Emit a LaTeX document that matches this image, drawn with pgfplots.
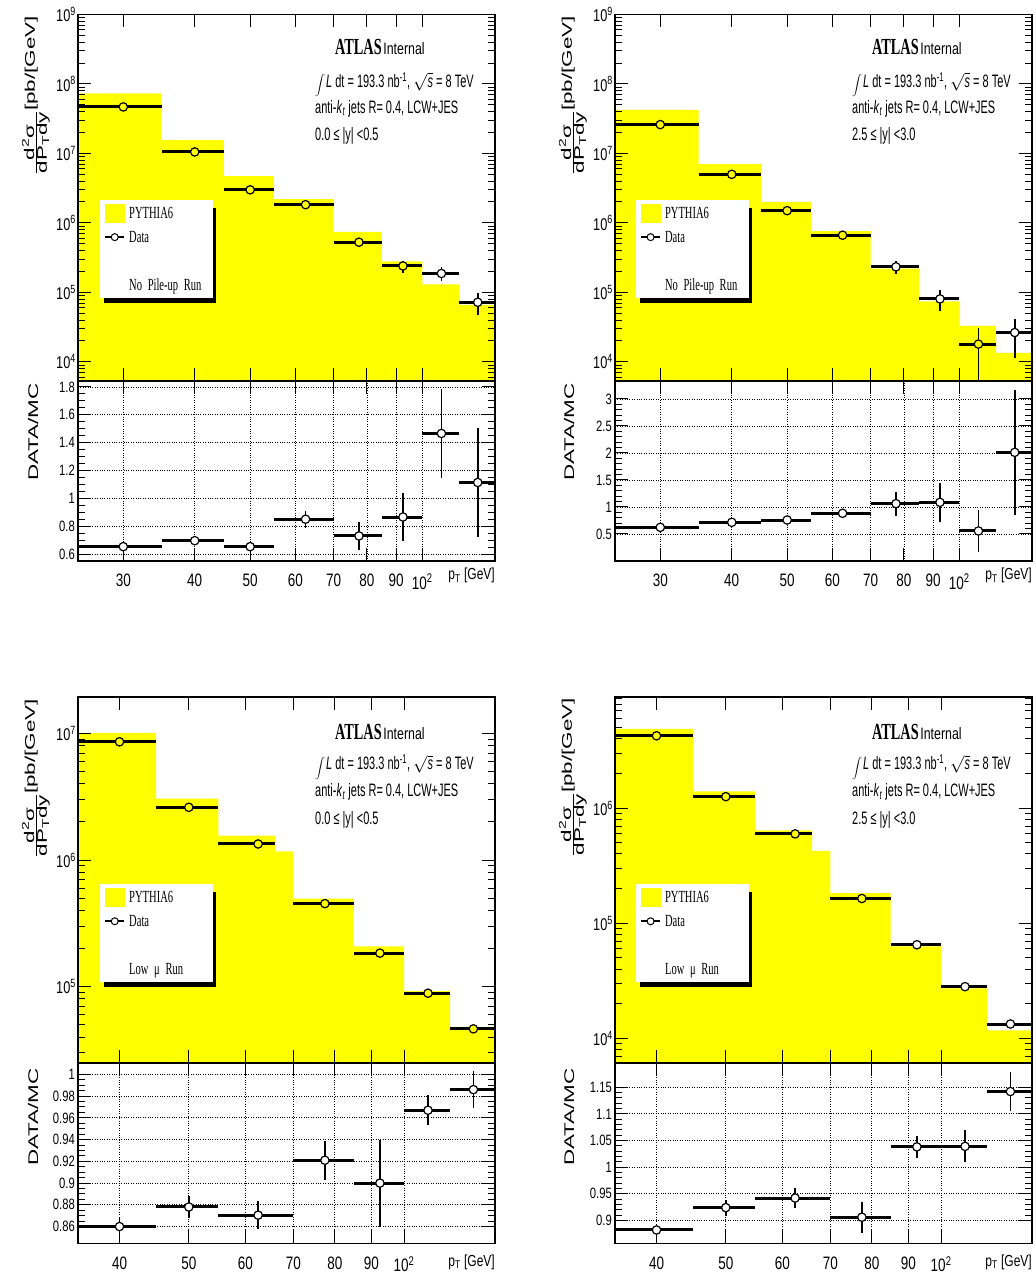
\documentclass[border=0pt]{standalone}
\usepackage{pgfplots}
\pgfplotsset{compat=1.18}
\usepackage{pgfplotstable}
\usepackage{fontspec}
\setmainfont[FakeStretch=0.75]{Liberation Sans}
\newfontfamily\rserif[FakeStretch=0.62]{Liberation Serif}
\newfontfamily\wsans[FakeStretch=1.6]{Liberation Sans}
\newfontfamily\annfont[FakeStretch=0.61]{Liberation Sans}
\definecolor{mcyellow}{RGB}{255,255,0}

% ---------------- TOP LEFT: No pile-up, 0.0<=|y|<0.5
\pgfplotstableread{
x y
25 7.3e7
35 1.55e7
45 4.7e6
55 2.2e6
70 7.4e5
85 2.8e5
100 1.3e5
116 6.6e4
134 6.6e4
}\tlmc
\pgfplotstableread{
x y exm exp ey w
30 4.67e7 5 5 4.7e5 0
40 1.05e7 5 5 1.0e5 0
50 2.99e6 5 5 3.0e4 0
62.5 1.83e6 7.5 7.5 1.28e5 0
77.5 5.27e5 7.5 7.5 7.2e4 0
92.5 2.40e5 7.5 7.5 4.7e4 0
108 1.87e5 8 8 4.1e4 1
125 7.2e4 9 9 2.5e4 1
}\tldata
\pgfplotstableread{
x r exm exp er
30 0.653 5 5 0.005
40 0.696 5 5 0.005
50 0.653 5 5 0.005
62.5 0.850 7.5 7.5 0.06
77.5 0.730 7.5 7.5 0.10
92.5 0.866 7.5 7.5 0.17
108 1.466 8 8 0.32
125 1.114 9 9 0.39
}\tlratio
% ---------------- TOP RIGHT: No pile-up, 2.5<=|y|<3.0
\pgfplotstableread{
x y
25 4.25e7
35 7.0e6
45 2.0e6
55 7.6e5
70 2.2e5
85 7.4e4
100 3.3e4
116 1.35e4
134 1.35e4
}\trmc
\pgfplotstableread{
x y exm exp ey w
30 2.6e7 5 5 2.6e5 0
40 5.0e6 5 5 7.5e4 0
50 1.5e6 5 5 3.0e4 0
62.5 6.65e5 7.5 7.5 3.8e4 0
77.5 2.33e5 7.5 7.5 4.8e4 1
92.5 8.05e4 7.5 7.5 2.63e4 1
108 1.8e4 8 8 1.26e4 0
125 2.64e4 9 9 1.52e4 1
}\trdata
\pgfplotstableread{
x r exm exp er
30 0.623 5 5 0.01
40 0.716 5 5 0.012
50 0.759 5 5 0.015
62.5 0.883 7.5 7.5 0.05
77.5 1.062 7.5 7.5 0.22
92.5 1.086 7.5 7.5 0.355
108 0.556 8 8 0.39
125 2.012 9 9 1.16
}\trratio
% ---------------- BOTTOM LEFT: Low mu, 0.0<=|y|<0.5
\pgfplotstableread{
x y
35 1.01e7
45 3.06e6
55 1.56e6
66 1.17e6
70 4.97e5
85 2.08e5
100 9.2e4
116 4.8e4
134 4.8e4
}\blmc
\pgfplotstableread{
x y exm exp ey w
40 8.6e6 5 5 9e4 0
50 2.61e6 5 5 3e4 0
62.5 1.34e6 7.5 3.5 2e4 0
77.5 4.53e5 7.5 7.5 8.8e3 0
92.5 1.84e5 7.5 7.5 8.1e3 0
108 8.87e4 8 8 1.3e3 0
125 4.64e4 9 9 8e2 0
}\bldata
\pgfplotstableread{
x r exm exp er
40 0.860 5 5 0.009
50 0.878 5 5 0.010
62.5 0.8705 7.5 7.5 0.013
77.5 0.921 7.5 7.5 0.018
92.5 0.900 7.5 7.5 0.040
108 0.967 8 8 0.014
125 0.986 9 9 0.017
}\blratio
% ---------------- BOTTOM RIGHT: Low mu, 2.5<=|y|<3.0
\pgfplotstableread{
x y
35 4.9e6
45 1.4e6
55 6.4e5
66 4.26e5
70 1.83e5
85 6.3e4
100 2.72e4
116 1.17e4
134 1.17e4
}\brmc
\pgfplotstableread{
x y exm exp ey w
40 4.26e6 5 5 2.4e4 0
50 1.26e6 5 5 2e4 0
62.5 5.98e5 7.5 3.5 1.1e4 0
77.5 1.64e5 7.5 7.5 5.2e3 0
92.5 6.5e4 7.5 7.5 1.3e3 1
108 2.81e4 8 8 8e2 1
125 1.33e4 9 9 4.3e2 1
}\brdata
\pgfplotstableread{
x r exm exp er
40 0.882 5 5 0.005
50 0.924 5 5 0.015
62.5 0.942 7.5 7.5 0.018
77.5 0.906 7.5 7.5 0.029
92.5 1.038 7.5 7.5 0.021
108 1.039 8 8 0.03
125 1.142 9 9 0.037
}\brratio

\pgfplotsset{
  log number format basis/.code 2 args={#1\textsuperscript{\pgfmathprintnumber[assume math mode=true]{#2}}},
  mainaxis/.style={
    /pgfplots/scale only axis,
    /pgfplots/width=417pt, /pgfplots/height=366.5pt, /pgfplots/axis on top,
    /pgfplots/axis line style={line width=1.6pt},
    /pgfplots/tick style={black, line width=1pt},
    /pgfplots/tick align=inside,
    /pgfplots/major tick length=13pt, /pgfplots/minor tick length=7pt,
    /pgfplots/yticklabel style={font=\fontsize{17}{17}\selectfont, inner sep=0pt, xshift=-2pt},
  },
  ratioaxis/.style={
    /pgfplots/scale only axis,
    /pgfplots/width=417pt, /pgfplots/height=180pt, /pgfplots/axis on top,
    /pgfplots/axis line style={line width=1.6pt},
    /pgfplots/tick style={black, line width=1pt},
    /pgfplots/tick align=inside,
    /pgfplots/major tick length=13pt, /pgfplots/minor tick length=7pt,
    /pgfplots/grid=major, /pgfplots/major grid style={black, dotted, line width=0.8pt},
    /pgfplots/xticklabel style={font=\fontsize{18}{18}\selectfont, inner sep=0pt, yshift=-13pt},
    /pgfplots/yticklabel style={font=\fontsize{15}{15}\selectfont, inner sep=0pt, xshift=-3pt},
    /pgf/number format/assume math mode=true,
    /pgfplots/minor y tick num=3,
  },
  mclegend/.style={/pgfplots/legend image code/.code={\fill[mcyellow] (0pt,-9pt) rectangle (19pt,9pt);}},
  datalegend/.style={/tikz/black, /tikz/line width=2pt, /tikz/mark=*, /tikz/mark size=3.5pt, /tikz/mark options={fill=white, line width=1pt},
     /pgfplots/legend image code/.code={\draw[mark repeat=2,mark phase=2,##1] plot coordinates {(0pt,0pt) (9.5pt,0pt) (19pt,0pt)};}},
  rootlegend/.style 2 args={/pgfplots/legend style={at={(axis description cs:#1)}, anchor=north west, draw=none, fill=white,
     name=#2,
     inner xsep=4pt, inner ysep=1pt, row sep=0pt, column sep=4pt,
     font=\rserif\fontsize{17}{17}\selectfont,
     nodes={inner sep=0pt, text height=17pt, text depth=7pt},
     /tikz/every even column/.append style={text width=80pt, align=left}},
     /pgfplots/legend cell align=left},
  xbars/.style={/tikz/only marks, /tikz/mark=none, /pgfplots/forget plot,
     /pgfplots/error bars/x dir=both, /pgfplots/error bars/x explicit, /pgfplots/error bars/error mark=none,
     /pgfplots/error bars/error bar style={draw=black, line width=3pt}},
  ybars/.style={/tikz/only marks, /tikz/mark=none, /pgfplots/forget plot,
     /pgfplots/error bars/y dir=both, /pgfplots/error bars/y explicit, /pgfplots/error bars/error mark=none,
     /pgfplots/error bars/error bar style={draw=black, line width=1.8pt}},
  datamarks/.style={/pgfplots/forget plot, /pgfplots/scatter, /tikz/only marks, /pgfplots/point meta=explicit symbolic,
     /pgfplots/scatter/classes={0={mark=*, mark size=4.2pt, fill=mcyellow, draw=black, line width=1.2pt},
                      1={mark=*, mark size=4.2pt, fill=white, draw=black, line width=1.2pt}}},
  ratiomarks/.style={/pgfplots/forget plot, /tikz/only marks, /tikz/mark=*, /tikz/mark size=4.2pt, /tikz/mark options={fill=white, draw=black, line width=1.2pt}},
}

\newcommand\lumi{\smash{\raisebox{-3pt}{\fontsize{19}{19}\selectfont$\displaystyle\int$}}\kern1pt\textit{L} dt = 193.3 nb\textsuperscript{-1}, $\sqrt{\mbox{\textit{s}}}$ = 8 TeV}
\newcommand\algo{anti-\textit{k}\textsubscript{\textit{t}} jets R= 0.4, LCW+JES}
\newcommand\atlas{{\rserif\bfseries\fontsize{23}{23}\selectfont ATLAS}\,{\fontsize{16.5}{16.5}\selectfont Internal}}
\newcommand\ylab{\wsans\fontsize{14}{16}\selectfont $\frac{\mbox{\fontsize{14}{14}\selectfont d\textsuperscript{2}σ}}{\mbox{\fontsize{14}{14}\selectfont dP\textsubscript{T}dy}}$\raisebox{5pt}{[pb/[GeV]}}
\newcommand\rlab{\wsans\fontsize{14}{16}\selectfont DATA/MC}
\newcommand\ptlab{\fontsize{16}{16}\selectfont p\textsubscript{T} [GeV]}
\newcommand\legshadow[1]{%
  \fill[black] ([xshift=4pt]#1.south west) rectangle ([xshift=3pt,yshift=-5pt]#1.south east);
  \fill[black] ([yshift=-8pt]#1.north east) rectangle ([xshift=3pt,yshift=-5pt]#1.south east);}

\begin{document}
\begin{tikzpicture}
\path[use as bounding box] (0,0) rectangle (1036pt,1278pt);

% ================= TOP LEFT
\begin{axis}[xmode=log, ymode=log, mainaxis, at={(78pt,897pt)}, anchor=south west, xmin=25, xmax=134, ymin=5.3e3, ymax=1e9,
  xtick={30,40,50,60,70,80,90,100}, xticklabels={,,,,,,,}, rootlegend={0.0528,0.494}{legTL}]
\addplot[const plot, fill=mcyellow, draw=none, forget plot] table[x=x,y=y]{\tlmc} \closedcycle;
\addplot[xbars] table[x=x,y=y,x error plus=exp,x error minus=exm]{\tldata};
\addplot[ybars] table[x=x,y=y,y error=ey]{\tldata};
\addplot[datamarks] table[x=x,y=y,meta=w]{\tldata};
\addlegendimage{mclegend}\addlegendentry{PYTHIA6}
\addlegendimage{datalegend}\addlegendentry{Data}
\addlegendimage{empty legend}\addlegendentry{\mbox{}}
\addlegendimage{empty legend}\addlegendentry{No Pile-up Run}
\end{axis}
\legshadow{legTL}
\begin{axis}[xmode=log, ratioaxis, at={(78pt,717pt)}, anchor=south west, xmin=25, xmax=134, ymin=0.55, ymax=1.843,
  xtick={30,40,50,60,70,80,90,100}, xticklabels={30,40,50,60,70,80,90,10\textsuperscript{2}},
  ytick={0.6,0.8,1,1.2,1.4,1.6,1.8}]
\addplot[xbars] table[x=x,y=r,x error plus=exp,x error minus=exm]{\tlratio};
\addplot[ybars] table[x=x,y=r,y error=er]{\tlratio};
\addplot[ratiomarks] table[x=x,y=r]{\tlratio};
\end{axis}

% ================= TOP RIGHT
\begin{axis}[xmode=log, ymode=log, mainaxis, at={(615pt,897pt)}, anchor=south west, xmin=25, xmax=134, ymin=5.3e3, ymax=1e9,
  xtick={30,40,50,60,70,80,90,100}, xticklabels={,,,,,,,}, rootlegend={0.050,0.494}{legTR}]
\addplot[const plot, fill=mcyellow, draw=none, forget plot] table[x=x,y=y]{\trmc} \closedcycle;
\addplot[xbars] table[x=x,y=y,x error plus=exp,x error minus=exm]{\trdata};
\addplot[ybars] table[x=x,y=y,y error=ey]{\trdata};
\addplot[datamarks] table[x=x,y=y,meta=w]{\trdata};
\addlegendimage{mclegend}\addlegendentry{PYTHIA6}
\addlegendimage{datalegend}\addlegendentry{Data}
\addlegendimage{empty legend}\addlegendentry{\mbox{}}
\addlegendimage{empty legend}\addlegendentry{No Pile-up Run}
\end{axis}
\legshadow{legTR}
\begin{axis}[xmode=log, ratioaxis, at={(615pt,717pt)}, anchor=south west, xmin=25, xmax=134, ymin=0, ymax=3.333,
  xtick={30,40,50,60,70,80,90,100}, xticklabels={30,40,50,60,70,80,90,10\textsuperscript{2}},
  ytick={0.5,1,1.5,2,2.5,3}, minor y tick num=4]
\addplot[xbars] table[x=x,y=r,x error plus=exp,x error minus=exm]{\trratio};
\addplot[ybars] table[x=x,y=r,y error=er]{\trratio};
\addplot[ratiomarks] table[x=x,y=r]{\trratio};
\end{axis}

% ================= BOTTOM LEFT
\begin{axis}[xmode=log, ymode=log, mainaxis, at={(78pt,214.7pt)}, anchor=south west, xmin=35, xmax=134, ymin=2.48e4, ymax=1.95e7,
  xtick={40,50,60,70,80,90,100}, xticklabels={,,,,,,}, rootlegend={0.0528,0.489}{legBL}]
\addplot[const plot, fill=mcyellow, draw=none, forget plot] table[x=x,y=y]{\blmc} \closedcycle;
\addplot[xbars] table[x=x,y=y,x error plus=exp,x error minus=exm]{\bldata};
\addplot[ybars] table[x=x,y=y,y error=ey]{\bldata};
\addplot[datamarks] table[x=x,y=y,meta=w]{\bldata};
\addlegendimage{mclegend}\addlegendentry{PYTHIA6}
\addlegendimage{datalegend}\addlegendentry{Data}
\addlegendimage{empty legend}\addlegendentry{\mbox{}}
\addlegendimage{empty legend}\addlegendentry{Low μ Run}
\end{axis}
\legshadow{legBL}
\begin{axis}[xmode=log, ratioaxis, at={(78pt,34.7pt)}, anchor=south west, xmin=35, xmax=134, ymin=0.8446, ymax=1.0102,
  xtick={40,50,60,70,80,90,100}, xticklabels={40,50,60,70,80,90,10\textsuperscript{2}},
  ytick={0.86,0.88,0.9,0.92,0.94,0.96,0.98,1}]
\addplot[xbars] table[x=x,y=r,x error plus=exp,x error minus=exm]{\blratio};
\addplot[ybars] table[x=x,y=r,y error=er]{\blratio};
\addplot[ratiomarks] table[x=x,y=r]{\blratio};
\end{axis}

% ================= BOTTOM RIGHT
\begin{axis}[xmode=log, ymode=log, mainaxis, at={(615pt,214.7pt)}, anchor=south west, xmin=35, xmax=134, ymin=6.06e3, ymax=9.3e6,
  xtick={40,50,60,70,80,90,100}, xticklabels={,,,,,,}, rootlegend={0.050,0.489}{legBR}]
\addplot[const plot, fill=mcyellow, draw=none, forget plot] table[x=x,y=y]{\brmc} \closedcycle;
\addplot[xbars] table[x=x,y=y,x error plus=exp,x error minus=exm]{\brdata};
\addplot[ybars] table[x=x,y=y,y error=ey]{\brdata};
\addplot[datamarks] table[x=x,y=y,meta=w]{\brdata};
\addlegendimage{mclegend}\addlegendentry{PYTHIA6}
\addlegendimage{datalegend}\addlegendentry{Data}
\addlegendimage{empty legend}\addlegendentry{\mbox{}}
\addlegendimage{empty legend}\addlegendentry{Low μ Run}
\end{axis}
\legshadow{legBR}
\begin{axis}[xmode=log, ratioaxis, at={(615pt,34.7pt)}, anchor=south west, xmin=35, xmax=134, ymin=0.857, ymax=1.195,
  xtick={40,50,60,70,80,90,100}, xticklabels={40,50,60,70,80,90,10\textsuperscript{2}},
  ytick={0.9,0.95,1,1.05,1.1,1.15}, minor y tick num=4]
\addplot[xbars] table[x=x,y=r,x error plus=exp,x error minus=exm]{\brratio};
\addplot[ybars] table[x=x,y=r,y error=er]{\brratio};
\addplot[ratiomarks] table[x=x,y=r]{\brratio};
\end{axis}

% ================= annotations
\foreach \dx/\yA/\yB/\yC/\yD/\rng in {0/1223/1190.7/1164.7/1137.3/{0.0 ≤ |y| <0.5}, 537/1223/1190.7/1164.7/1137.3/{2.5 ≤ |y| <3.0}, 0/538/508/481/453/{0.0 ≤ |y| <0.5}, 537/538/508/481/453/{2.5 ≤ |y| <3.0}}{
  \node[anchor=base west, inner sep=0pt] at (335pt+\dx pt, \yA pt) {\atlas};
  \node[anchor=base west, inner sep=0pt, font=\annfont\fontsize{18}{18}\selectfont] at (315pt+\dx pt, \yB pt) {\lumi};
  \node[anchor=base west, inner sep=0pt, font=\annfont\fontsize{18}{18}\selectfont] at (315pt+\dx pt, \yC pt) {\algo};
  \node[anchor=base west, inner sep=0pt, font=\annfont\fontsize{18}{18}\selectfont] at (315pt+\dx pt, \yD pt) {\rng};
}
% y labels
\foreach \xx/\yy in {36/1262, 573/1262, 36/579, 573/580}{
  \node[rotate=90, anchor=east, inner sep=0pt] at (\xx pt, \yy pt) {\ylab};
}
\foreach \xx/\yy in {33/895, 569/895, 33/210, 569/210}{
  \node[rotate=90, anchor=east, inner sep=0pt] at (\xx pt, \yy pt) {\rlab};
}
\foreach \xx/\yy in {495/698, 1032/698, 495/12, 1032/12}{
  \node[anchor=base east, inner sep=0pt] at (\xx pt, \yy pt) {\ptlab};
}
\end{tikzpicture}
\end{document}
